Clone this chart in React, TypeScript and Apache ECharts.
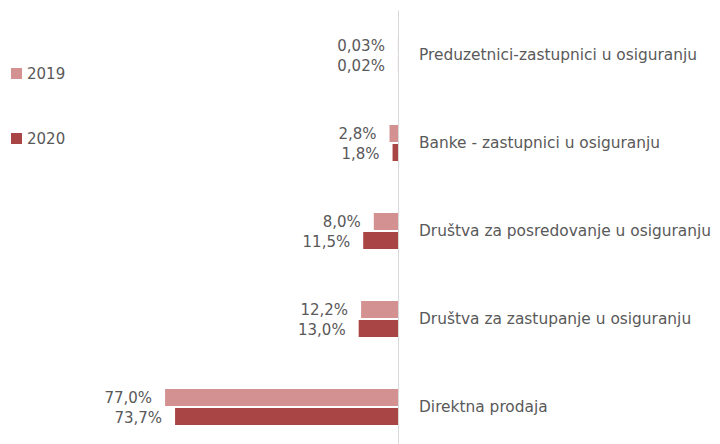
import React, { useEffect, useRef } from "react";
import * as echarts from "echarts";

const categories = [
  "Preduzetnici-zastupnici u osiguranju",
  "Banke - zastupnici u osiguranju",
  "Društva za posredovanje u osiguranju",
  "Društva za zastupanje u osiguranju",
  "Direktna prodaja",
];
const values2019 = [0.03, 2.8, 8.0, 12.2, 77.0];
const values2020 = [0.02, 1.8, 11.5, 13.0, 73.7];
const seriesNames = ["2019", "2020"];
const colors = ["#D39191", "#A94645"];

const FONT = "DejaVu Sans";
const TEXT = "#595959";

const fmt = (v: number) => (v < 1 ? v.toFixed(2) : v.toFixed(1)).replace(".", ",") + "%";

export default function App() {
  const ref = useRef<HTMLDivElement>(null);
  useEffect(() => {
    const chart = echarts.init(ref.current!, null, { renderer: "svg" });
    const mk = (name: string, data: number[], color: string) => ({
      name,
      type: "bar",
      data,
      barWidth: 17,
      barGap: "12%",
      itemStyle: { color },
      label: {
        show: true,
        position: "left",
        distance: 13,
        offset: [0, 1],
        color: TEXT,
        fontFamily: FONT,
        fontSize: 15,
        formatter: (p: any) => fmt(p.value),
      },
    });
    chart.setOption({
      animation: false,
      textStyle: { fontFamily: FONT },
      legend: {
        orient: "vertical",
        left: 6,
        top: 61,
        itemWidth: 11,
        itemHeight: 11,
        itemGap: 50,
        icon: "rect",
        textStyle: { color: TEXT, fontSize: 15, fontFamily: FONT },
        data: seriesNames,
      },
      grid: {
        left: 156,
        right: 322,
        top: 11,
        bottom: -7,
        containLabel: false,
        outerBoundsMode: "none",
      },
      xAxis: {
        type: "value",
        min: 0,
        max: 80,
        inverse: true,
        show: false,
      },
      yAxis: {
        type: "category",
        data: categories,
        inverse: true,
        position: "right",
        axisLine: { show: true, lineStyle: { color: "#D9D9D9", width: 1 } },
        axisTick: { show: false },
        axisLabel: {
          margin: 21,
          color: TEXT,
          fontSize: 15.4,
          fontFamily: FONT,
        },
        splitLine: { show: false },
      },
      series: [
        mk(seriesNames[0], values2019, colors[0]),
        mk(seriesNames[1], values2020, colors[1]),
      ],
    });
    return () => chart.dispose();
  }, []);
  return <div ref={ref} style={{ width: 720, height: 444, position: "absolute", left: 0, top: 0 }} />;
}
